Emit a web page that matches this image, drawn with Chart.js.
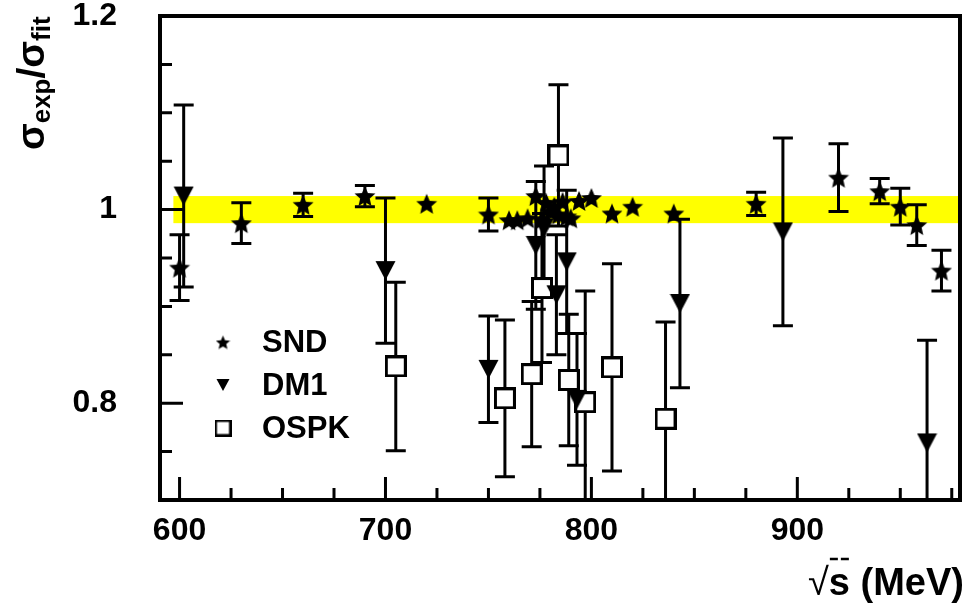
<!DOCTYPE html>
<html>
<head>
<meta charset="utf-8">
<script src="https://cdn.jsdelivr.net/npm/chart.js@4.4.1/dist/chart.umd.min.js"></script>
<style>
  html, body { margin: 0; padding: 0; background: #fff; }
  #wrap { width: 972px; height: 608px; }
</style>
</head>
<body>
<div id="wrap"><canvas id="c" width="972" height="608"></canvas></div>
<script>
// SND points: sqrt(s) in MeV, ratio, error (0 = hidden under marker)
const sndX   = [600, 630, 660, 690, 720, 750, 760, 764, 769, 773, 776, 778, 780, 782, 784, 786, 788, 790, 794, 800, 810, 820, 840, 880, 920, 940, 950, 958, 970];
const sndY   = [0.940, 0.986, 1.005, 1.014, 1.006, 0.995, 0.989, 0.989, 0.991, 1.014, 0.990, 1.007, 0.998, 1.003, 0.995, 1.008, 0.993, 0.991, 1.009, 1.012, 0.996, 1.003, 0.996, 1.006, 1.033, 1.019, 1.003, 0.984, 0.937];
const sndErr = [0.034, 0.021, 0.012, 0.011, 0, 0.017, 0, 0, 0, 0, 0, 0, 0, 0, 0, 0, 0, 0, 0, 0, 0, 0, 0, 0.012, 0.035, 0.013, 0.019, 0.021, 0.021];

// DM1 points
const dm1X   = [602, 700, 750, 773, 777, 783, 788, 793, 843, 893, 963];
const dm1Y   = [1.014, 0.937, 0.835, 0.963, 0.981, 0.912, 0.946, 0.804, 0.903, 0.977, 0.759];
const dm1Err = [0.094, 0.075, 0.055, 0.066, 0.064, 0.062, 0.074, 0.068, 0.087, 0.097, 0.106];

// OSPK points
const ospkX   = [705, 758, 771, 776, 784, 789, 797, 810, 836];
const ospkY   = [0.838, 0.805, 0.830, 0.919, 1.056, 0.824, 0.801, 0.837, 0.784];
const ospkErr = [0.087, 0.081, 0.075, 0.077, 0.073, 0.068, 0.115, 0.107, 0.100];

// fit uncertainty band
const bandX = [597, 979];
const bandY = [0.986, 1.014];

const xLabels = [600, 700, 800, 900];
const yLabels = [0.8, 1, 1.2];
const legendNames = ['SND', 'DM1', 'OSPK'];

const FONT = 'Liberation Sans, Arial, Helvetica, sans-serif';

// marker images
const makeMarker = (size, draw) => {
    const c = document.createElement('canvas');
    c.width = size;
    c.height = size;
    draw(c.getContext('2d'), size);
    return c;
};
const starMarker = (n) => makeMarker(n, (g) => {
    const R = n / 2, r = R * 0.46;
    g.beginPath();
    for (let i = 0; i < 10; i++) {
        const a = -Math.PI / 2 + i * Math.PI / 5;
        const rr = i % 2 ? r : R;
        g.lineTo(n / 2 + rr * Math.cos(a), n / 2 + 1 + rr * Math.sin(a));
    }
    g.closePath();
    g.fillStyle = '#000';
    g.fill();
});
const triMarker = (n) => makeMarker(n, (g) => {
    g.beginPath();
    g.moveTo(0.5, 1);
    g.lineTo(n - 0.5, 1);
    g.lineTo(n / 2, n - 1);
    g.closePath();
    g.fillStyle = '#000';
    g.fill();
});
const boxMarker = (n, lw) => makeMarker(n, (g) => {
    g.fillStyle = '#fff';
    g.fillRect(lw / 2, lw / 2, n - lw, n - lw);
    g.strokeStyle = '#000';
    g.lineWidth = lw;
    g.strokeRect(lw / 2, lw / 2, n - lw, n - lw);
});

const toPoints = (xs, ys) => xs.map((v, i) => ({ x: v, y: ys[i] }));

// band + error bars under the markers, frame/ticks/legend/titles on top
const errorBars = {
    id: 'errorBars',
    beforeDatasetsDraw(chart) {
        const { ctx, chartArea: a, scales: { x, y } } = chart;
        ctx.save();
        ctx.beginPath();
        ctx.rect(a.left, a.top, a.right - a.left, a.bottom - a.top);
        ctx.clip();

        const bx0 = x.getPixelForValue(bandX[0]), bx1 = x.getPixelForValue(bandX[1]);
        const by0 = y.getPixelForValue(bandY[1]), by1 = y.getPixelForValue(bandY[0]);
        ctx.fillStyle = '#ffff00';
        ctx.fillRect(bx0, by0, bx1 - bx0, by1 - by0);

        ctx.strokeStyle = '#000';
        ctx.lineWidth = 3;
        chart.data.datasets.forEach(ds => {
            ds.data.forEach((p, i) => {
                const e = ds.errors[i];
                if (!e) return;
                const px = x.getPixelForValue(p.x);
                const top = y.getPixelForValue(p.y + e);
                const bot = y.getPixelForValue(p.y - e);
                ctx.beginPath();
                ctx.moveTo(px, top); ctx.lineTo(px, bot);
                ctx.moveTo(px - 10, top); ctx.lineTo(px + 10, top);
                ctx.moveTo(px - 10, bot); ctx.lineTo(px + 10, bot);
                ctx.stroke();
            });
        });
        ctx.restore();
    },
    afterDraw(chart) {
        const { ctx, chartArea: a, scales: { x, y } } = chart;
        ctx.save();
        // frame
        ctx.strokeStyle = '#000';
        ctx.lineWidth = 4;
        ctx.strokeRect(a.left, a.top, a.right - a.left, a.bottom - a.top);

        // inner ticks
        ctx.lineWidth = 3;
        ctx.beginPath();
        for (let v = 600; v < x.max; v += 25) {
            const px = x.getPixelForValue(v);
            const len = v % 100 === 0 ? 23 : 12;
            ctx.moveTo(px, a.bottom); ctx.lineTo(px, a.bottom - len);
        }
        for (let k = 14; k < 24; k++) {
            const py = y.getPixelForValue(k * 0.05);
            const len = (k % 4 === 0) ? 23 : 12;
            ctx.moveTo(a.left, py); ctx.lineTo(a.left + len, py);
        }
        ctx.stroke();

        // legend
        const legMarks = [starMarker(15), triMarker(14), boxMarker(17, 2.5)];
        ctx.fillStyle = '#000';
        ctx.font = 'bold 31px ' + FONT;
        ctx.textBaseline = 'middle';
        ctx.textAlign = 'left';
        legendNames.forEach((name, i) => {
            const cy = 342 + i * 43;
            const m = legMarks[i];
            ctx.drawImage(m, 223 - m.width / 2, cy - m.height / 2);
            ctx.fillText(name, 262, cy + 1);
        });

        // y title: sigma_exp / sigma_fit
        ctx.save();
        ctx.translate(44, 150);
        ctx.rotate(-Math.PI / 2);
        ctx.textBaseline = 'alphabetic';
        let cx = 0;
        const part = (t, font, dy) => {
            ctx.font = font;
            ctx.fillText(t, cx, dy);
            cx += ctx.measureText(t).width;
        };
        part('σ', 'bold 39px ' + FONT, 0);
        part('exp', 'bold 26px ' + FONT, 6);
        part('/', 'bold 39px ' + FONT, 0);
        part('σ', 'bold 39px ' + FONT, 0);
        part('fit', 'bold 26px ' + FONT, 6);
        ctx.restore();

        // x title: sqrt(s) (MeV)
        ctx.textBaseline = 'alphabetic';
        ctx.font = 'bold 38px ' + FONT;
        const tail = ' (MeV)';
        const wTail = ctx.measureText(tail).width;
        const wS = ctx.measureText('s').width;
        ctx.font = '38px ' + FONT;
        const wRoot = ctx.measureText('√').width;
        const xEnd = 964, base = 595;
        const xS = xEnd - wTail - wS;
        ctx.fillText('√', xS - wRoot, base);
        ctx.font = 'bold 38px ' + FONT;
        ctx.fillText('s', xS, base);
        ctx.fillText(tail, xS + wS, base);
        ctx.lineWidth = 2.5;
        ctx.setLineDash([8, 3]);
        ctx.beginPath();
        ctx.moveTo(xS + 1, 559);
        ctx.lineTo(xS + wS, 559);
        ctx.stroke();
        ctx.restore();
    }
};

new Chart(document.getElementById('c'), {
    type: 'scatter',
    data: {
        datasets: [
            { label: 'SND', data: toPoints(sndX, sndY), errors: sndErr, pointStyle: starMarker(22), pointRadius: 11 },
            { label: 'DM1', data: toPoints(dm1X, dm1Y), errors: dm1Err, pointStyle: triMarker(21), pointRadius: 10 },
            { label: 'OSPK', data: toPoints(ospkX, ospkY), errors: ospkErr, pointStyle: boxMarker(22, 3), pointRadius: 11 }
        ]
    },
    options: {
        responsive: false,
        animation: false,
        layout: { padding: { left: 0, right: 6, top: 16, bottom: 0 } },
        plugins: { legend: { display: false }, tooltip: { enabled: false } },
        scales: {
            x: {
                type: 'linear',
                min: 590.5,
                max: 979,
                afterBuildTicks: s => { s.ticks = xLabels.map(v => ({ value: v })); },
                afterFit: s => { s.height = 108; s.paddingLeft = 0; s.paddingRight = 0; },
                grid: { display: false, drawTicks: false },
                border: { display: false },
                ticks: {
                    padding: 12, color: '#000', maxRotation: 0, autoSkip: false,
                    font: { family: FONT, weight: 'bold', size: 32 },
                    callback: v => String(v)
                }
            },
            y: {
                min: 0.7,
                max: 1.2,
                afterBuildTicks: s => { s.ticks = yLabels.map(v => ({ value: v })); },
                afterFit: s => { s.width = 160; s.paddingTop = 0; s.paddingBottom = 0; },
                grid: { display: false, drawTicks: false },
                border: { display: false },
                ticks: {
                    padding: 43, color: '#000',
                    font: { family: FONT, weight: 'bold', size: 32 },
                    callback: v => String(v)
                }
            }
        }
    },
    plugins: [errorBars]
});
</script>
</body>
</html>
